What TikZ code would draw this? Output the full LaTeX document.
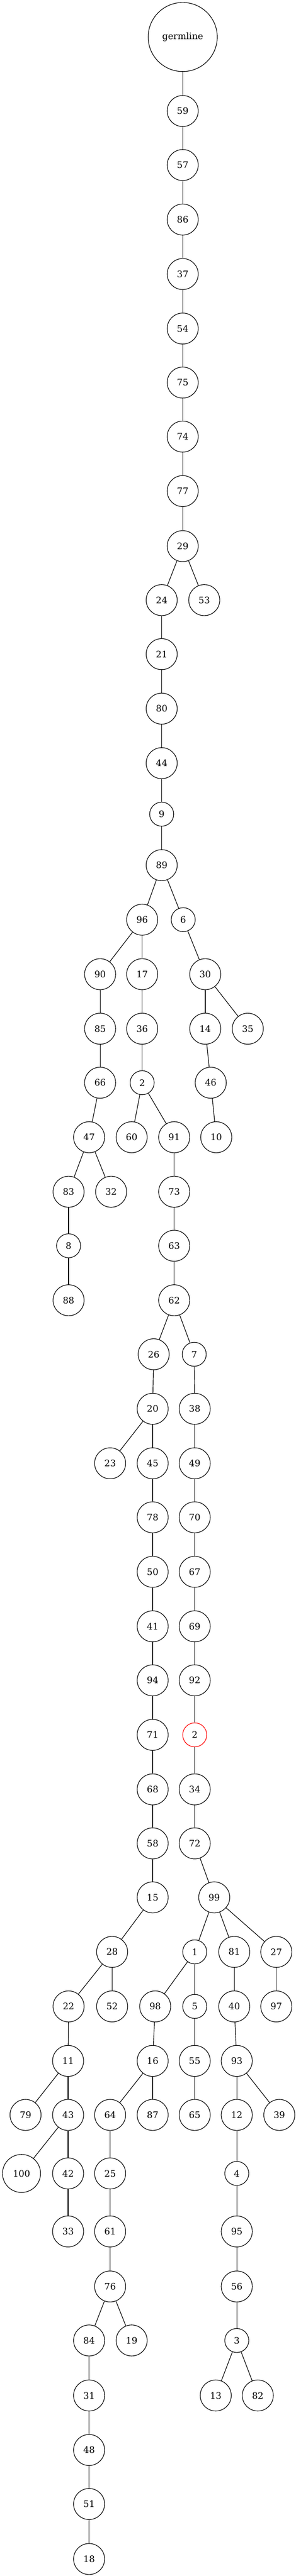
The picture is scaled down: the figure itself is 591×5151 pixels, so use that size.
\documentclass[tikz,border=0pt]{standalone}
\usepackage{fontspec}
\setmainfont{DejaVu Serif}
\begin{document}
\begin{tikzpicture}[x=0.5pt,y=-0.5pt,
  nd/.style={circle,draw=black,line width=0.6pt,inner sep=0pt,minimum size=31pt,font=\fontsize{9}{11}\selectfont},
  sm/.style={nd,minimum size=24pt},
  hd/.style={nd,minimum size=38pt},
  germ/.style={nd,minimum size=69pt},
  redc/.style={draw=red},
  every path/.style={line width=0.6pt}]
\useasboundingbox (0,0) rectangle (591,5151);
\node[germ] (g) at (365,74) {germline};
\node[nd] (n59) at (365,222) {59};
\node[nd] (n57) at (365,330) {57};
\node[nd] (n86) at (365,439) {86};
\node[nd] (n37) at (365,548) {37};
\node[nd] (n54) at (365,657) {54};
\node[nd] (n75) at (365,765) {75};
\node[nd] (n74) at (365,873) {74};
\node[nd] (n77) at (365,982) {77};
\node[nd] (n29) at (365,1092) {29};
\node[nd] (n24) at (323,1200) {24};
\node[nd] (n53) at (408,1200) {53};
\node[nd] (n21) at (323,1308) {21};
\node[nd] (n80) at (323,1417) {80};
\node[nd] (n44) at (323,1526) {44};
\node[sm] (n9) at (323,1628) {9};
\node[nd] (n89) at (323,1730) {89};
\node[nd] (n96) at (284,1839) {96};
\node[sm] (n6) at (366,1839) {6};
\node[nd] (n90) at (200,1948) {90};
\node[nd] (n17) at (284,1948) {17};
\node[nd] (n30) at (410,1948) {30};
\node[nd] (n85) at (200,2057) {85};
\node[nd] (n36) at (284,2057) {36};
\node[nd] (n14) at (410,2057) {14};
\node[nd] (n35) at (495,2057) {35};
\node[nd] (n66) at (200,2165) {66};
\node[sm] (n2) at (284,2165) {2};
\node[nd] (n46) at (421,2165) {46};
\node[nd] (n47) at (178,2274) {47};
\node[nd] (n60) at (263,2274) {60};
\node[nd] (n91) at (348,2274) {91};
\node[nd] (n10) at (432,2274) {10};
\node[nd] (n83) at (137,2383) {83};
\node[nd] (n32) at (222,2383) {32};
\node[nd] (n73) at (348,2383) {73};
\node[sm] (n8) at (137,2491) {8};
\node[nd] (n63) at (348,2491) {63};
\node[nd] (n88) at (137,2600) {88};
\node[nd] (n62) at (348,2600) {62};
\node[nd] (n26) at (307,2708) {26};
\node[sm] (n7) at (388,2708) {7};
\node[nd] (n20) at (305,2817) {20};
\node[nd] (n38) at (389,2817) {38};
\node[nd] (n23) at (220,2926) {23};
\node[nd] (n45) at (305,2926) {45};
\node[nd] (n49) at (389,2926) {49};
\node[nd] (n78) at (305,3034) {78};
\node[nd] (n70) at (389,3034) {70};
\node[nd] (n50) at (305,3143) {50};
\node[nd] (n67) at (389,3143) {67};
\node[nd] (n41) at (305,3252) {41};
\node[nd] (n69) at (389,3252) {69};
\node[nd] (n94) at (305,3360) {94};
\node[nd] (n92) at (389,3360) {92};
\node[nd] (n71) at (305,3469) {71};
\node[sm,redc] (n2r) at (389,3469) {2};
\node[nd] (n68) at (305,3578) {68};
\node[nd] (n34) at (389,3578) {34};
\node[nd] (n58) at (305,3686) {58};
\node[nd] (n72) at (389,3686) {72};
\node[nd] (n15) at (305,3794) {15};
\node[nd] (n99) at (428,3794) {99};
\node[nd] (n28) at (224,3903) {28};
\node[sm] (n1) at (389,3903) {1};
\node[nd] (n81) at (468,3903) {81};
\node[nd] (n27) at (552,3903) {27};
\node[nd] (n22) at (137,4012) {22};
\node[nd] (n52) at (224,4012) {52};
\node[nd] (n98) at (310,4012) {98};
\node[sm] (n5) at (389,4012) {5};
\node[nd] (n40) at (468,4012) {40};
\node[nd] (n97) at (552,4012) {97};
\node[nd] (n11) at (136,4121) {11};
\node[nd] (n16) at (305,4121) {16};
\node[nd] (n55) at (389,4121) {55};
\node[nd] (n93) at (473,4121) {93};
\node[nd] (n79) at (51,4229) {79};
\node[nd] (n43) at (136,4229) {43};
\node[nd] (n64) at (220,4229) {64};
\node[nd] (n87) at (305,4229) {87};
\node[nd] (n65) at (389,4229) {65};
\node[nd] (n12) at (473,4229) {12};
\node[nd] (n39) at (558,4229) {39};
\node[hd] (n100) at (43,4346) {100};
\node[nd] (n42) at (136,4346) {42};
\node[nd] (n25) at (220,4346) {25};
\node[sm] (n4) at (473,4346) {4};
\node[nd] (n33) at (136,4462) {33};
\node[nd] (n61) at (220,4462) {61};
\node[nd] (n95) at (473,4462) {95};
\node[nd] (n76) at (220,4572) {76};
\node[nd] (n56) at (473,4572) {56};
\node[nd] (n84) at (178,4680) {84};
\node[nd] (n19) at (263,4680) {19};
\node[sm] (n3) at (473,4680) {3};
\node[nd] (n31) at (178,4790) {31};
\node[nd] (n13) at (431,4790) {13};
\node[nd] (n82) at (515,4790) {82};
\node[nd] (n48) at (178,4899) {48};
\node[nd] (n51) at (178,5007) {51};
\node[nd] (n18) at (178,5117) {18};
\foreach \a/\b in {g/n59,n59/n57,n57/n86,n86/n37,n37/n54,n54/n75,n75/n74,n74/n77,n77/n29,
  n29/n24,n29/n53,n24/n21,n21/n80,n80/n44,n44/n9,n9/n89,n89/n96,n89/n6,n96/n90,n96/n17,
  n90/n85,n85/n66,n66/n47,n47/n83,n47/n32,n83/n8,n8/n88,n17/n36,n36/n2,n2/n60,n2/n91,
  n91/n73,n73/n63,n63/n62,n62/n26,n62/n7,n26/n20,n20/n23,n20/n45,n45/n78,n78/n50,n50/n41,
  n41/n94,n94/n71,n71/n68,n68/n58,n58/n15,n15/n28,n28/n22,n28/n52,n22/n11,n11/n79,n11/n43,
  n43/n100,n43/n42,n42/n33,n7/n38,n38/n49,n49/n70,n70/n67,n67/n69,n69/n92,n92/n2r,n2r/n34,
  n34/n72,n72/n99,n99/n1,n99/n81,n99/n27,n1/n98,n1/n5,n98/n16,n16/n64,n16/n87,n64/n25,
  n25/n61,n61/n76,n76/n84,n76/n19,n84/n31,n31/n48,n48/n51,n51/n18,n5/n55,n55/n65,n81/n40,
  n40/n93,n93/n12,n93/n39,n12/n4,n4/n95,n95/n56,n56/n3,n3/n13,n3/n82,n27/n97,n6/n30,
  n30/n14,n30/n35,n14/n46,n46/n10}
  \draw (\a) -- (\b);
\end{tikzpicture}
\end{document}
